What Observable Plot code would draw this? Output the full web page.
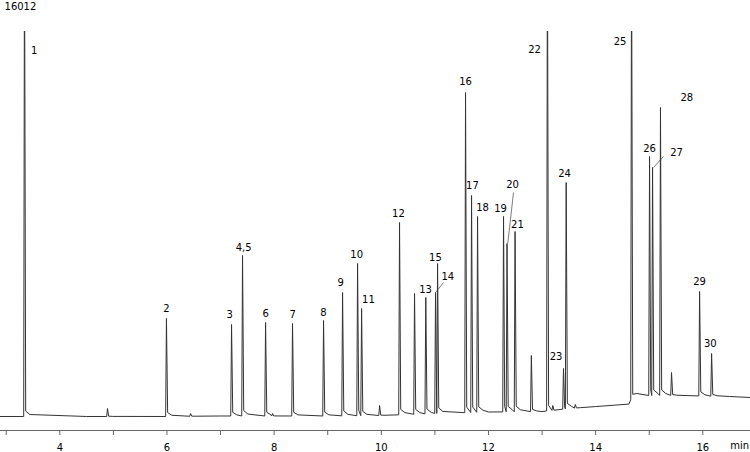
<!DOCTYPE html>
<html><head><meta charset="utf-8">
<script src="https://cdn.jsdelivr.net/npm/d3@7"></script>
<script src="https://cdn.jsdelivr.net/npm/@observablehq/plot@0.6"></script>
<style>body{margin:0;background:#fff}</style>
</head><body><div id="chart"></div>
<script>
// Baseline of the chromatogram (time in min, signal)
const baseTimes  = [2.89, 4.5, 6.0, 7.0, 9.0, 10.0, 11.0, 12.0, 13.0, 13.5, 14.0, 14.62, 14.72, 15.5, 16.5, 16.89];
const baseValues = [562, 562, 562, 582, 582, 602, 682, 742, 760, 880, 960, 1060, 1405, 1405, 1364, 1324];

// Peak apexes (retention time in min, signal)
const peakTimes   = [3.341, 4.89, 5.99, 6.44, 7.205, 7.41, 7.84, 7.97, 8.343, 8.922, 9.277, 9.557, 9.632, 9.968, 10.34, 10.62, 10.83, 11.012, 11.05, 11.572, 11.684, 11.796, 12.281, 12.346, 12.496, 12.80, 13.10, 13.20, 13.40, 13.45, 13.62, 14.67, 15.006, 15.062, 15.21, 15.416, 15.94, 16.164];
const peakHeights = [20000, 883, 4495, 682, 4254, 7023, 4334, 682, 4294, 4414, 5538, 6702, 4896, 1003, 8347, 5498, 5337, 5538, 6702, 13564, 9431, 8588, 8588, 7504, 7986, 3010, 20000, 1003, 2488, 9952, 1043, 20000, 10996, 10554, 12962, 2328, 5578, 3090];

// Peak labels
const labelTexts  = ["1","2","3","4,5","6","7","8","9","10","11","12","13","14","15","16","17","18","19","20","21","22","23","24","25","26","27","28","29","30"];
const labelTimes  = [3.52, 5.99, 7.17, 7.43, 7.84, 8.345, 8.92, 9.24, 9.54, 9.76, 10.32, 10.825, 11.24, 11.01, 11.572, 11.70, 11.89, 12.225, 12.45, 12.54, 12.86, 13.26, 13.42, 14.455, 15.006, 15.51, 15.70, 15.94, 16.14];
const labelValues = [15250, 4896, 4655, 7344, 4695, 4655, 4735, 5939, 7063, 5257, 8708, 5658, 6180, 6942, 14005, 9832, 8949, 8909, 9872, 8267, 15290, 2970, 10313, 15611, 11317, 11156, 13363, 5979, 3491];

// Leader lines for labels 14, 20, 27
const leaderX1 = [11.012, 12.36, 15.08];
const leaderY1 = [5538, 7504, 10554];
const leaderX2 = [11.161, 12.467, 15.266];
const leaderY2 = [5939, 9551, 10996];

const yMaxText = "16012";
const unitText = "min";
const xTicks = d3.range(3, 17);

// Build trace vertices from baseline knots and peaks
const baseAt = d3.scaleLinear(baseTimes, baseValues).clamp(true);
const trace = [];
const windows = [];
peakTimes.forEach((t, i) => {
  const h = peakHeights[i];
  const b = baseAt(t);
  const next = i + 1 < peakTimes.length ? peakTimes[i + 1] - 0.015 : Infinity;
  const amp = Math.min(h, 16012) - b;
  trace.push({t: t - 0.015, v: b});
  trace.push({t, v: h});
  let end = t;
  if (t + 0.022 < next - 0.005) { trace.push({t: t + 0.022, v: b + Math.min(0.04 * amp, 220)}); end = t + 0.022; }
  if (t + 0.1 < next - 0.005) { trace.push({t: t + 0.1, v: baseAt(t + 0.1) + Math.min(0.012 * amp, 80)}); end = t + 0.1; }
  windows.push([t - 0.015, end]);
});
baseTimes.forEach((t, i) => {
  if (!windows.some(([a, e]) => t >= a && t <= e)) trace.push({t, v: baseValues[i]});
});
trace.sort((a, b) => a.t - b.t);

const labels = labelTexts.map((s, i) => ({s, t: labelTimes[i], v: labelValues[i]}));
const leaders = leaderX1.map((x, i) => ({x1: x, y1: leaderY1[i], x2: leaderX2[i], y2: leaderY2[i]}));

const font = "DejaVu Sans";
const chart = Plot.plot({
  width: 750, height: 452,
  marginTop: 31, marginBottom: 22, marginLeft: 0, marginRight: 0,
  x: {domain: [2.893, 16.89]},
  y: {domain: [0, 16012], axis: null},
  style: {fontFamily: font, fontSize: "10px", color: "#000", background: "#fff"},
  marks: [
    Plot.ruleY([0], {stroke: "#666"}),
    Plot.axisX({ticks: xTicks, tickFormat: d => d % 2 === 0 ? String(d) : "", tickSize: 5, tickPadding: 8, stroke: "#666", label: null, fontSize: 10}),
    Plot.line(trace, {x: "t", y: "v", stroke: "#333", strokeWidth: 1, clip: true}),
    Plot.link(leaders, {x1: "x1", y1: "y1", x2: "x2", y2: "y2", stroke: "#444", strokeWidth: 0.7}),
    Plot.text(labels, {x: "t", y: "v", text: "s", fill: "#000", fontSize: 10}),
    Plot.text([yMaxText], {x: 2.968, y: 16995, text: d => d, textAnchor: "start", fill: "#000", fontSize: 10}),
    Plot.text([unitText], {x: 16.686, y: -620, text: d => d, fill: "#000", fontSize: 10})
  ]
});
document.getElementById("chart").append(chart);
</script>
</body></html>
